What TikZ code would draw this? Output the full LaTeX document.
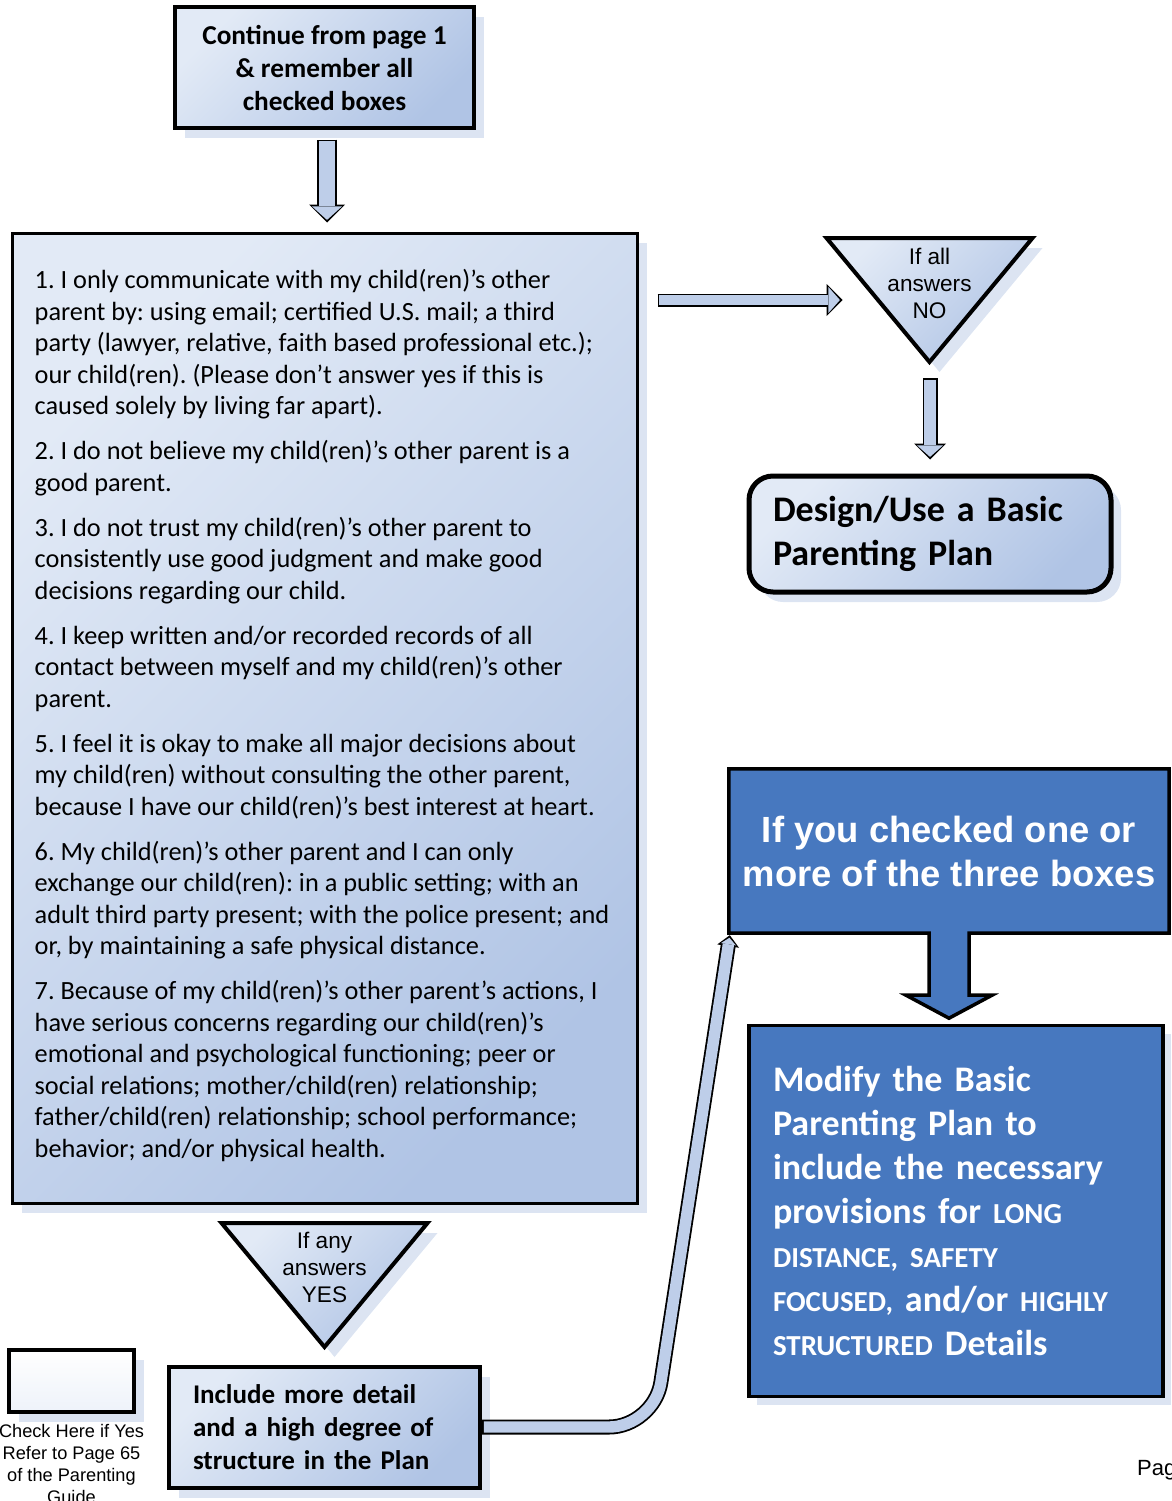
\documentclass[tikz,border=0pt]{standalone}
\usepackage{fontspec}
\setmainfont{Carlito}
\newfontfamily\arialf{Liberation Sans}
\usetikzlibrary{positioning,arrows.meta,backgrounds,shadows,calc}
\frenchspacing

\definecolor{paleblue}{RGB}{226,234,246}
\definecolor{midblue}{RGB}{176,196,229}
\definecolor{pipeblue}{RGB}{190,206,233}
\definecolor{deepblue}{RGB}{71,120,191}
\definecolor{shadowblue}{RGB}{220,228,242}

\newcommand{\capsm}[1]{{\fontsize{29}{44}\selectfont #1}}

\tikzset{
  shadowed/.style={drop shadow={shadow xshift=10pt, shadow yshift=-10pt, fill=shadowblue, opacity=1}},
  pale/.style={top color=paleblue, bottom color=midblue, shading angle=45},
  box/.style={draw, line width=3.5pt, pale, shadowed, inner sep=0pt},
  bluebox/.style={draw, line width=3.5pt, fill=deepblue, text=white, inner sep=0pt},
  tri/.style={draw, line width=4pt, line join=miter, pale, shadowed},
  tritext/.style={align=center, inner sep=0pt, font=\arialf\fontsize{22.6}{27}\selectfont},
  blockarrow/.style n args={5}{draw=pipeblue, line width=#1pt-3.6pt,
    shorten <=1.8pt, shorten >=2.6pt,
    -{Triangle[length=#5pt, width=#4pt, line width=0pt 0 0]},
    preaction={draw=black, line width=#1pt, shorten <=0pt, shorten >=0pt,
      -{Triangle[length=#3pt, width=#2pt, line width=0pt 0 0]}}}
}

\begin{document}
\begin{tikzpicture}[x=1pt,y=-1pt]
  \useasboundingbox (0,0) rectangle (1171,1501);

  %% start and questions
  \node[box, line width=4pt, minimum width=299pt, minimum height=121pt, align=center,
        font=\bfseries\fontsize{27.3}{33}\selectfont] (cont) at (324.5,68)
        {Continue from page 1\\ \& remember all\\ checked boxes};
  \node[box, line width=3pt, minimum width=625pt, minimum height=970pt] (items) at (324.5,718) {};
  \node[below right=38pt and 24pt of items.north west, inner sep=0pt, align=left,
        font=\fontsize{26.3}{31.5}\selectfont] (list)
        {1. I only communicate with my child(ren)’s other\\
         parent by: using email; certified U.S. mail; a third\\
         party (lawyer, relative, faith based professional etc.);\\
         our child(ren). (Please don’t answer yes if this is\\
         caused solely by living far apart).\\[13.5pt]
         2. I do not believe my child(ren)’s other parent is a\\
         good parent.\\[13.5pt]
         3. I do not trust my child(ren)’s other parent to\\
         consistently use good judgment and make good\\
         decisions regarding our child.\\[13.5pt]
         4. I keep written and/or recorded records of all\\
         contact between myself and my child(ren)’s other\\
         parent.\\[13.5pt]
         5. I feel it is okay to make all major decisions about\\
         my child(ren) without consulting the other parent,\\
         because I have our child(ren)’s best interest at heart.\\[13.5pt]
         6. My child(ren)’s other parent and I can only\\
         exchange our child(ren): in a public setting; with an\\
         adult third party present; with the police present; and\\
         or, by maintaining a safe physical distance.\\[13.5pt]
         7. Because of my child(ren)’s other parent’s actions, I\\
         have serious concerns regarding our child(ren)’s\\
         emotional and psychological functioning; peer or\\
         social relations; mother/child(ren) relationship;\\
         father/child(ren) relationship; school performance;\\
         behavior; and/or physical health.};

  %% answer triangles
  \coordinate (no) at (929.5,238);
  \draw[tri] ($(no)+(-103,0)$) -- ($(no)+(103,0)$) -- ($(no)+(0,124)$) -- cycle;
  \node[tritext] (notext) at ($(no)+(0,45)$) {If all\\answers\\NO};
  \coordinate (yes) at (324.5,1223);
  \draw[tri] ($(yes)+(-103,0)$) -- ($(yes)+(103,0)$) -- ($(yes)+(0,124)$) -- cycle;
  \node[tritext] (yestext) at ($(yes)+(0,44)$) {If any\\answers\\YES};

  %% outcomes
  \node[box, line width=5pt, rounded corners=24pt, minimum width=362pt, minimum height=116pt,
        text width=314pt, align=left, font=\bfseries\fontsize{36}{44}\selectfont] (design) at (930,534)
        {Design/Use a Basic\\ Parenting Plan};
  \node[box, line width=4pt, minimum width=311pt, minimum height=121pt, text width=263pt, align=left,
        font=\bfseries\fontsize{27}{33}\selectfont] (incl) at (324.5,1427)
        {Include more detail\\ and a high degree of\\ structure in the Plan};
  \node[box, top color=white, bottom color=paleblue!60, minimum width=125pt, minimum height=62pt] (chk) at (71.5,1381) {};
  \node[below=10pt of chk, inner sep=0pt, align=center, font=\arialf\fontsize{18.2}{22}\selectfont] (chktext)
        {Check Here if Yes\\ Refer to Page 65\\ of the Parenting\\ Guide};

  \node[minimum width=440pt, minimum height=164pt, inner sep=0pt, align=center, text=white,
        font=\arialf\bfseries\fontsize{36.4}{44}\selectfont] (ifchk) at (949,851)
        {If you checked one or\\ more of the three boxes};
  \begin{scope}[on background layer]
    \draw[line width=3.5pt, fill=deepblue] (ifchk.north west) -- (ifchk.north east) -- (ifchk.south east)
      -- ($(ifchk.south)+(20,0)$) -- ++(0,62) -- ++(23,0) -- ($(ifchk.south)+(0,85)$)
      -- ($(ifchk.south)+(-43,62)$) -- ++(23,0) -- ($(ifchk.south)+(-20,0)$) -- (ifchk.south west) -- cycle;
  \end{scope}
  \node[bluebox, drop shadow={shadow xshift=8pt, shadow yshift=-8pt, fill=shadowblue, opacity=1},
        minimum width=414pt, minimum height=371pt, text width=366pt, align=left,
        font=\bfseries\fontsize{36}{44}\selectfont] (modify) at (956,1211)
        {Modify the Basic\\ Parenting Plan to\\ include the necessary\\ provisions for \capsm{LONG}\\
         \capsm{DISTANCE, SAFETY}\\ \capsm{FOCUSED,} and/or \capsm{HIGHLY}\\ \capsm{STRUCTURED} Details};

  \node[anchor=west, inner sep=0pt, font=\arialf\fontsize{22}{26}\selectfont] (page) at (1137,1470) {Pag};

  %% block arrows
  \draw[blockarrow={20}{36}{18}{30}{13.5}] ($(cont.south)+(2.5,9)$) -- ($(items.north)+(2.5,-9)$);
  \coordinate (a2start) at ($(no)+(-272,62)$);
  \coordinate (a2end) at ($(no)+(-87,62)$);
  \draw[blockarrow={13}{32}{16}{26}{11.5}] (a2start) -- (a2end);
  \draw[blockarrow={15}{32}{16}{26}{11.5}] ($(no)+(0.5,140)$) -- ($(design.north)+(0,-14)$);
  \draw[blockarrow={15}{22}{11}{15}{6.5}, rounded corners=45pt]
    (incl.east) -- ++(172,0) -- ($(ifchk.south west)+(1,2)$);
\end{tikzpicture}
\end{document}
